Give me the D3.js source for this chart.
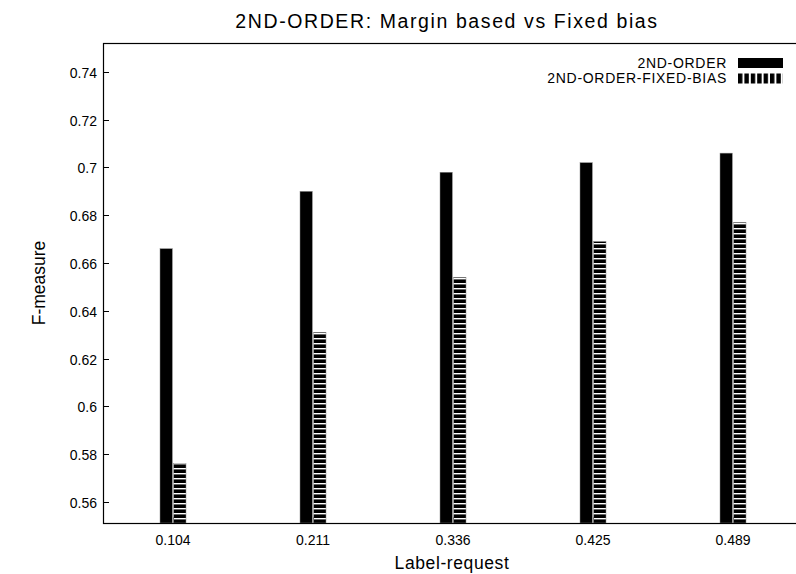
<!DOCTYPE html>
<html><head><meta charset="utf-8">
<script src="https://cdn.jsdelivr.net/npm/d3@7"></script>
<style>body{margin:0;background:#fff}svg{display:block}text{font-family:"Liberation Sans",Arial,sans-serif;fill:#000}</style>
</head><body><svg id="c" width="796" height="574"></svg>
<script>
const categories = ["0.104","0.211","0.336","0.425","0.489"];
const series = ["2ND-ORDER","2ND-ORDER-FIXED-BIAS"];
const secondOrder = [0.666,0.690,0.698,0.702,0.706];
const fixedBias = [0.576,0.631,0.654,0.669,0.677];
const yTicks = [0.56,0.58,0.6,0.62,0.64,0.66,0.68,0.7,0.72,0.74];
const title = "2ND-ORDER: Margin based vs Fixed bias";
const xLabel = "Label-request", yLabel = "F-measure";

const svg = d3.select("#c");
const L=103, R=803, T=43, B=523;
const x = d3.scaleBand().domain(categories).range([L,R]);
const inner = d3.scaleBand().domain(series).range([-13,13]).paddingInner(0.1);
const y = d3.scaleLinear().domain([0.5512,0.7521]).range([B,T]);

const defs = svg.append("defs");
const p1 = defs.append("pattern").attr("id","hstripe").attr("patternUnits","userSpaceOnUse")
  .attr("width",20).attr("height",5).attr("y",B);
p1.append("rect").attr("width",20).attr("height",5).attr("fill","#fff");
p1.append("rect").attr("y",1.4).attr("width",20).attr("height",3.6).attr("fill","#000");
const p2 = defs.append("pattern").attr("id","vstripe").attr("patternUnits","userSpaceOnUse")
  .attr("width",6.4).attr("height",20).attr("x",738);
p2.append("rect").attr("width",6.4).attr("height",20).attr("fill","#fff");
p2.append("rect").attr("width",4.4).attr("height",20).attr("fill","#000");

// title & labels
svg.append("text").attr("x",447).attr("y",28).attr("text-anchor","middle").attr("font-size",19.5).attr("letter-spacing",1.6).text(title);
svg.append("text").attr("x",452).attr("y",569).attr("text-anchor","middle").attr("font-size",17.5).attr("letter-spacing",0.6).text(xLabel);
svg.append("text").attr("transform","translate(45,283) rotate(-90)").attr("text-anchor","middle").attr("font-size",17.5).text(yLabel);

// y ticks
const yg = svg.append("g");
yTicks.forEach(t=>{
  const yy = Math.round(y(t))+0.5;
  yg.append("line").attr("x1",L).attr("x2",L+6).attr("y1",yy).attr("y2",yy).attr("stroke","#000");
  yg.append("line").attr("x1",R-7).attr("x2",R).attr("y1",yy).attr("y2",yy).attr("stroke","#000");
  yg.append("text").attr("x",L-6).attr("y",yy+5).attr("text-anchor","end").attr("font-size",14).text(d3.format("")(t));
});
// x tick labels
categories.forEach(c=>{
  const cx = x(c)+x.bandwidth()/2;
  svg.append("text").attr("x",cx).attr("y",B+22).attr("text-anchor","middle").attr("font-size",14).text(c);
});

// bars
const data = [secondOrder, fixedBias];
data.forEach((vals,si)=>{
  svg.append("g").selectAll("rect").data(vals).join("rect")
    .attr("x",(d,i)=>x(categories[i])+x.bandwidth()/2+inner(series[si]))
    .attr("width",inner.bandwidth())
    .attr("y",d=>y(d)).attr("height",d=>B-y(d))
    .attr("fill", si===0 ? "#000" : "url(#hstripe)")
    .attr("stroke","#888").attr("stroke-width",0.5);
});
// x ticks
categories.forEach(c=>{
  const cx = Math.round(x(c)+x.bandwidth()/2)+0.5;
  svg.append("line").attr("x1",cx).attr("x2",cx).attr("y1",B).attr("y2",B-6).attr("stroke","#777");
});

// frame
svg.append("rect").attr("x",L+0.5).attr("y",T+0.5).attr("width",R-L-1).attr("height",B-T).attr("fill","none").attr("stroke","#000").attr("stroke-width",1.2);

// legend
const lg = svg.append("g");
series.forEach((s,i)=>{
  const ly = 58 + i*15.5;
  lg.append("text").attr("x",727).attr("y",ly+9.5).attr("text-anchor","end").attr("font-size",14).attr("letter-spacing",0.7).text(s);
  lg.append("rect").attr("x",738).attr("y",ly).attr("width",45).attr("height",10)
    .attr("fill", i===0 ? "#000" : "url(#vstripe)");
});
</script></body></html>
